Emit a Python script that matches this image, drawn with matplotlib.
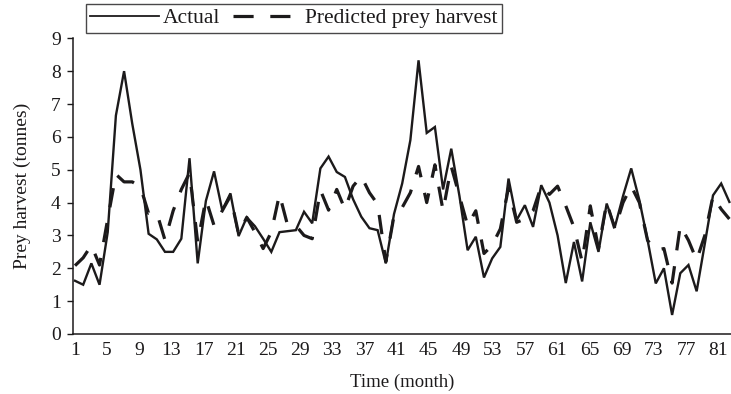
import matplotlib
matplotlib.use('Agg')
import matplotlib.pyplot as plt
from matplotlib.lines import Line2D
import numpy as np

plt.rcParams['font.family'] = ['Liberation Serif', 'DejaVu Serif']
plt.rcParams['lines.scale_dashes'] = False

ink = '#1c1a1b'

# monthly prey harvest (tonnes)
months = np.arange(1, 82)
actual = [1.62, 1.5, 2.15, 1.5, 3.1, 6.65, 8.0, 6.4, 5.0, 3.05,
          2.88, 2.5, 2.5, 2.9, 5.35, 2.15, 4.05, 4.95, 3.77, 4.28,
          2.98, 3.55, 3.28, 2.9, 2.5, 3.1, 3.13, 3.16, 3.72, 3.37,
          5.04, 5.4, 4.93, 4.78, 4.1, 3.57, 3.22, 3.16, 2.15, 3.65,
          4.58, 5.9, 8.33, 6.12, 6.3, 4.4, 5.64, 4.2, 2.55, 2.96,
          1.72, 2.3, 2.65, 4.73, 3.47, 3.92, 3.26, 4.53, 4.0, 3.0,
          1.55, 2.8, 1.6, 3.4, 2.5, 3.97, 3.26, 4.2, 5.04, 4.07,
          2.86, 1.54, 2.0, 0.58, 1.85, 2.1, 1.3, 2.75, 4.22, 4.58,
          4.02]
predicted = [2.08, 2.32, 2.7, 2.1, 3.5, 4.86, 4.63, 4.63, 4.48, 3.67,
             3.69, 2.86, 3.75, 4.4, 4.9, 2.8, 4.1, 3.3, 3.75, 4.2,
             3.05, 3.55, 3.1, 2.6, 3.1, 4.25, 3.3, 3.3, 3.0, 2.9,
             4.38, 3.77, 4.4, 3.8, 4.5, 4.8, 4.3, 3.95, 2.2, 3.6,
             3.85, 4.3, 5.1, 4.0, 5.15, 3.75, 5.1, 4.2, 3.3, 3.75,
             2.45, 2.7, 3.2, 4.45, 3.4, 3.5, 3.75, 4.5, 4.25, 4.5,
             3.9, 3.25, 2.2, 3.9, 2.6, 4.0, 3.2, 4.0, 4.5, 4.0,
             2.85, 2.55, 2.6, 1.55, 3.3, 2.85, 2.25, 3.0, 4.2, 3.8,
             3.5]
tick_months = np.arange(1, 82, 4)

fig = plt.figure(figsize=(7.31, 3.94), dpi=100)
ax = fig.add_axes([73 / 731, 60 / 394, 658 / 731, 295.7 / 394])

dash = (0, (14, 11.5))
ax.plot(months, actual, color=ink, lw=1.7, solid_joinstyle='miter')
ax.plot(months, predicted, color=ink, lw=2.3, linestyle=dash,
        dash_capstyle='butt')

ax.set_xlim(1 - 2 / 8.18, 81.2)
ax.set_ylim(0, 9)
# category labels sit on a slightly tighter pitch than the points
label_pitch = 8.04 / 8.18
ax.set_xticks(1 + (tick_months - 1) * label_pitch, [str(m) for m in tick_months])
ax.set_yticks(range(10))
ax.tick_params(axis='x', length=0, pad=6, labelsize=14, colors=ink)
ax.tick_params(axis='y', length=4, width=1, pad=4.8, labelsize=14, colors=ink)
for s in ('top', 'right'):
    ax.spines[s].set_visible(False)
for s in ('left', 'bottom'):
    ax.spines[s].set_color(ink)
    ax.spines[s].set_linewidth(1.1)

ax.set_xlabel('Time (month)', fontsize=13.5, color=ink, labelpad=10)
ax.set_ylabel('Prey harvest (tonnes)', fontsize=14, color=ink, labelpad=14)

handles = [Line2D([], [], color=ink, lw=1.3),
           Line2D([], [], color=ink, lw=2.3, linestyle=(0, (14.5, 12)),
                  dash_capstyle='butt')]
leg = fig.legend(handles, ['Actual', 'Predicted prey harvest'], ncol=2,
                 loc='upper left', bbox_to_anchor=(86 / 731, 1 - 4 / 394),
                 fontsize=15.5, frameon=True, fancybox=False, borderaxespad=0,
                 handlelength=3.2, handletextpad=0.15, columnspacing=0.6,
                 borderpad=0.2)
leg.get_frame().set_edgecolor(ink)
leg.get_frame().set_linewidth(1.0)
for t in leg.get_texts():
    t.set_color(ink)

fig.savefig('out.png', dpi=100)
